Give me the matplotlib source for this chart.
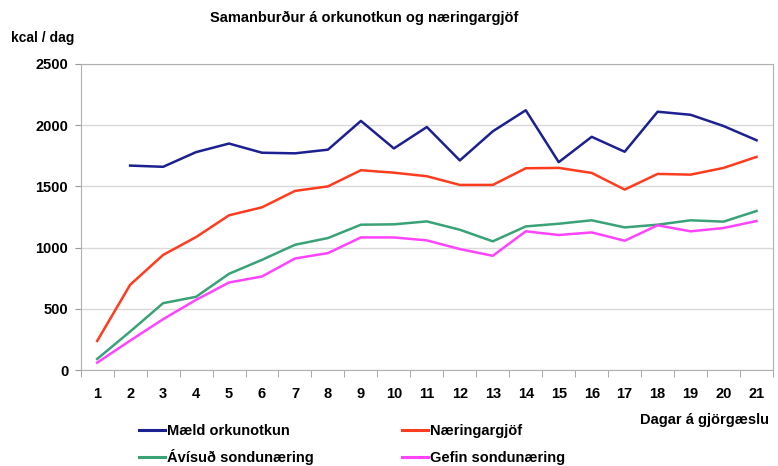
import matplotlib.pyplot as plt
from matplotlib.lines import Line2D
import numpy as np

plt.rcParams['font.family'] = ['Liberation Sans', 'DejaVu Sans']
plt.rcParams['font.weight'] = 'bold'

days = list(range(1, 22))
maeld = [np.nan, 1670, 1660, 1780, 1850, 1775, 1770, 1800, 2035, 1810,
         1985, 1712, 1950, 2122, 1698, 1905, 1783, 2110, 2085, 1993, 1877]
naering = [237, 696, 940, 1086, 1264, 1329, 1463, 1500, 1632, 1612,
           1583, 1512, 1512, 1648, 1651, 1610, 1474, 1602, 1596, 1651, 1741]
avisud = [90, 314, 546, 598, 786, 900, 1023, 1078, 1187, 1190,
          1214, 1146, 1051, 1173, 1195, 1223, 1165, 1187, 1223, 1212, 1299]
gefin = [60, 240, 415, 573, 715, 764, 911, 955, 1083, 1083,
         1059, 988, 933, 1133, 1103, 1124, 1056, 1182, 1133, 1160, 1217]

series = [
    ('Mæld orkunotkun', maeld, '#1c2090'),
    ('Næringargjöf', naering, '#ff3c1e'),
    ('Ávísuð sondunæring', avisud, '#3aa277'),
    ('Gefin sondunæring', gefin, '#ff44ff'),
]

W, H = 778, 466
fig = plt.figure(figsize=(W / 100, H / 100), dpi=100)
ax = fig.add_axes([0.1037, 0.206, 0.8899, 0.6567])

for name, vals, col in series:
    ax.plot(days, vals, color=col, lw=1.8, label=name)

ax.set_xlim(0.5, 21.5)
ax.set_ylim(0, 2500)
ax.set_yticks([0, 500, 1000, 1500, 2000, 2500])
ax.set_xticks(days)
ax.set_xticks(np.arange(0.5, 22, 1), minor=True)
ax.tick_params(axis='x', which='major', length=0, pad=12, labelsize=10.5)
ax.tick_params(axis='x', which='minor', length=5, color='#999999')
ax.tick_params(axis='y', length=4, color='#999999', labelsize=10.5, pad=5)
ax.grid(axis='y', color='#d9d9d9', lw=1)
ax.set_axisbelow(True)
for s in ax.spines.values():
    s.set_color('#b0b0b0')

fig.text(0.468, 0.962, 'Samanburður á orkunotkun og næringargjöf',
         ha='center', va='center', fontsize=10.5)
fig.text(0.014, 0.918, 'kcal / dag', ha='left', va='center', fontsize=10)
fig.text(0.988, 0.098, 'Dagar á gjörgæslu', ha='right', va='center', fontsize=10.5)

# legend drawn by hand: 2 columns x 2 rows, like the original
cols_x = [139, 402]
rows_y = [430, 457]
for i, (name, vals, col) in enumerate(series):
    x0 = cols_x[i % 2]
    yl = rows_y[i // 2]
    fig.add_artist(Line2D([x0 / W, (x0 + 26) / W], [1 - yl / H, 1 - yl / H],
                          color=col, lw=2.2, transform=fig.transFigure))
    fig.text((x0 + 28) / W, 1 - (yl + 5) / H, name, ha='left', va='baseline',
             fontsize=10.5)

fig.savefig('out.png', dpi=100)
